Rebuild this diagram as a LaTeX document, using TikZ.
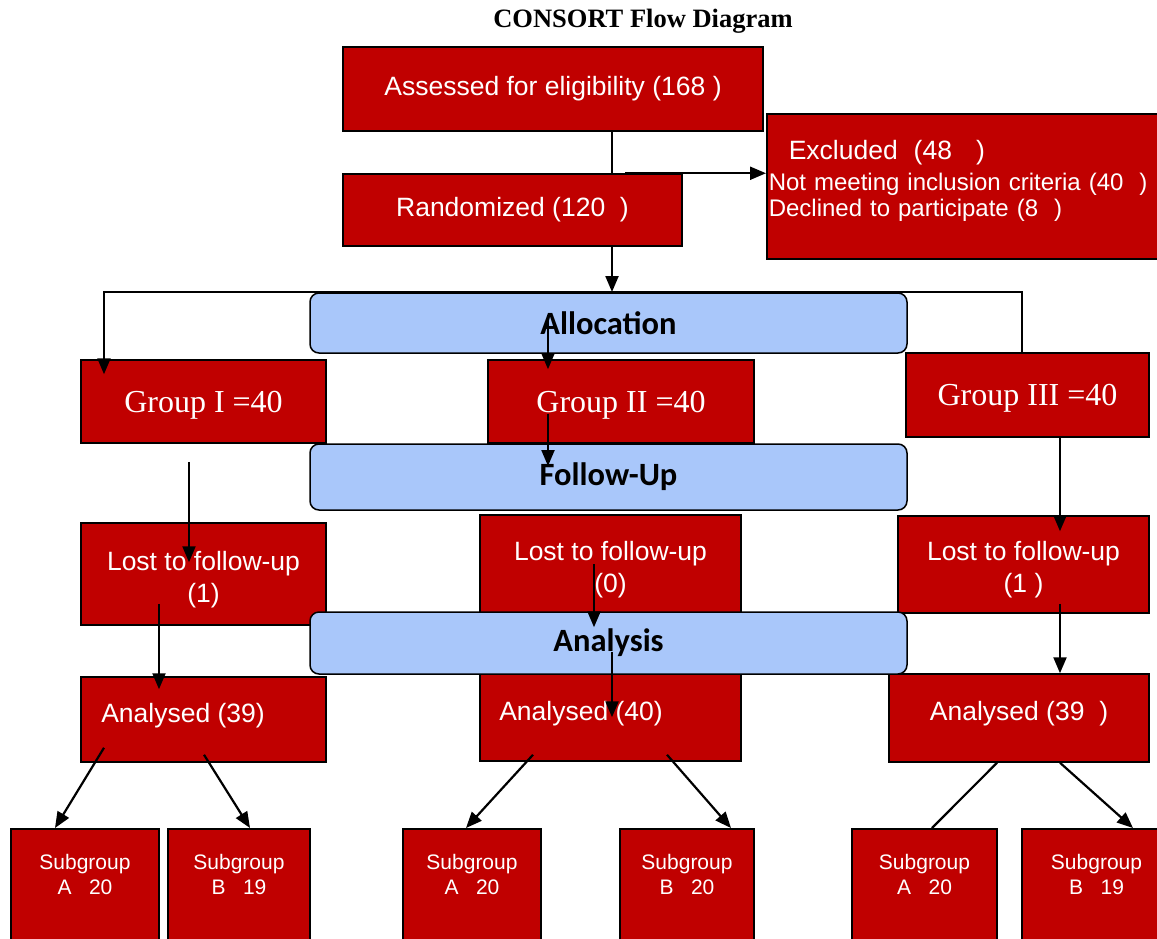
\documentclass[tikz,border=0pt]{standalone}
\usepackage{fontspec}
\setmainfont{Liberation Serif}
\setsansfont{Liberation Sans}
\newfontfamily\bandfont{Carlito}
\usetikzlibrary{arrows.meta}
\definecolor{boxred}{RGB}{192,0,0}
\definecolor{bandblue}{RGB}{169,199,250}

\begin{document}
\begin{tikzpicture}[x=1pt,y=-1pt,
  box/.style={rectangle,draw,line width=1.5pt,fill=boxred,text=white,inner sep=0pt,font=\sffamily\fontsize{26.5}{32}\selectfont},
  grp/.style={box,text height=28pt,font=\rmfamily\fontsize{32}{36}\selectfont},
  lostbox/.style={box,align=center,text height=62pt},
  subbox/.style={box,anchor=north,align=center,minimum height=112,text depth=20pt,font=\sffamily\fontsize{21}{25}\selectfont},
  band/.style={rectangle,draw,line width=1.5pt,rounded corners=9pt,fill=bandblue,minimum width=597,font=\bandfont\bfseries\fontsize{32.5}{36}\selectfont},
  arr/.style={line width=2.2pt,-{Triangle[length=16pt,width=13pt]}}]
\useasboundingbox (0,0) rectangle (1157,938);
\clip (0,0) rectangle (1157,938);

\node[font=\rmfamily\bfseries\fontsize{26.5}{30}\selectfont] (title) at (643,21) {CONSORT Flow Diagram};

\node[box,minimum width=420,minimum height=84] (assess) at (553,89) {Assessed for eligibility (168 )};
\node[box,minimum width=339,minimum height=72] (rand) at (512.5,210) {Randomized (120~~)};
\node[box,anchor=north west,minimum width=400,minimum height=145,text width=396,inner xsep=2pt,
  align=left,text depth=72pt,font=\sffamily\fontsize{24}{26}\selectfont] (excl) at (766,113)
  {{\fontsize{26.5}{30}\selectfont\hspace*{20pt}Excluded~~(48~~~)}\\[5pt]
   Not meeting inclusion criteria (40~~)\\Declined to participate (8~~)};

\node[grp,minimum width=245,minimum height=83] (g1) at (203.5,401.5) {Group I =40};
\node[grp,minimum width=266,minimum height=83] (g2) at (621,401.5) {Group II =40};
\node[grp,minimum width=243,minimum height=84] (g3) at (1027.5,395) {Group III =40};

\node[lostbox,minimum width=245,minimum height=102] (lost1) at (203.5,574) {Lost to follow-up\\(1)};
\node[lostbox,minimum width=261,minimum height=98] (lost2) at (610.5,564) {Lost to follow-up\\(0)};
\node[lostbox,minimum width=251,minimum height=97] (lost3) at (1023.5,564.5) {Lost to follow-up\\(1 )};

\node[box,text depth=14pt,minimum width=245,minimum height=85] (an1) at (203.5,719.5) {Analysed (39)\kern41pt};
\node[box,text depth=14pt,minimum width=261,minimum height=87] (an2) at (610.5,717.5) {Analysed (40)\kern59pt};
\node[box,text depth=14pt,minimum width=260,minimum height=88] (an3) at (1019,718) {Analysed (39~~)};

\node[subbox,minimum width=148] (s1) at (85,828) {Subgroup\\A~~~20};
\node[subbox,minimum width=142] (s2) at (239,828) {Subgroup\\B~~~19};
\node[subbox,minimum width=138] (s3) at (472,828) {Subgroup\\A~~~20};
\node[subbox,minimum width=134] (s4) at (687,828) {Subgroup\\B~~~20};
\node[subbox,minimum width=145] (s5) at (924.5,828) {Subgroup\\A~~~20};
\node[subbox,minimum width=149] (s6) at (1096.5,828) {Subgroup\\B~~~19};

\node[band,minimum height=60] (alloc) at (608.5,323) {Allocation};
\node[band,minimum height=66] (fup) at (608.5,477) {Follow-Up};
\node[band,minimum height=62] (ana) at (608.5,643) {Analysis};

\coordinate (tee) at (612,292);
\draw[line width=2.2pt] (assess.south -| tee) -- (rand.north -| tee);
\draw[arr] ([xshift=13pt]rand.north -| tee) -- (rand.north -| excl.west);
\draw[arr] (rand.south -| tee) -- (tee);
\draw[arr] (g3.north -| 1022,0) |- (tee) -| ([yshift=-15pt]g1.north -| 104,0);
\draw[arr] ([yshift=8pt]alloc.center -| 548,0) -- ([yshift=-10pt]g2.north -| 548,0);

\draw[arr] ([yshift=-18pt]g1.south -| 189,0) -- ([yshift=-40pt]lost1.north -| 189,0);
\draw[arr] ([yshift=-12pt]g2.center -| 548,0) -- ([yshift=11pt]fup.center -| 548,0);
\draw[arr] (g3.south -| 1060,0) -- ([yshift=-16pt]lost3.north -| 1060,0);

\draw[arr] ([yshift=22pt]lost1.south -| 159,0) -- ([yshift=-13pt]an1.north -| 159,0);
\draw[arr] (lost2.center -| 594,0) -- ([yshift=-16pt]ana.north -| 594,0);
\draw[arr] ([yshift=-9pt]ana.center -| 612,0) -- ([yshift=-44pt]an2.north -| 612,0);
\draw[arr] ([yshift=10pt]lost3.south -| 1060,0) -- (an3.north -| 1060,0);

\draw[arr] ([yshift=15pt]an1.south -| 104,0) -- (s1.north -| 55,0);
\draw[arr] ([yshift=8pt]an1.south -| 204,0) -- (s2.north -| 250,0);
\draw[arr] ([yshift=7pt]an2.south -| 533,0) -- (s3.north -| 466,0);
\draw[arr] ([yshift=7pt]an2.south -| 667,0) -- (s4.north -| 731,0);
\draw[line width=2.2pt] (an3.south -| 997,0) -- (s5.north -| 932,0);
\draw[arr] (an3.south -| 1060,0) -- (s6.north -| 1133,0);
\end{tikzpicture}
\end{document}
